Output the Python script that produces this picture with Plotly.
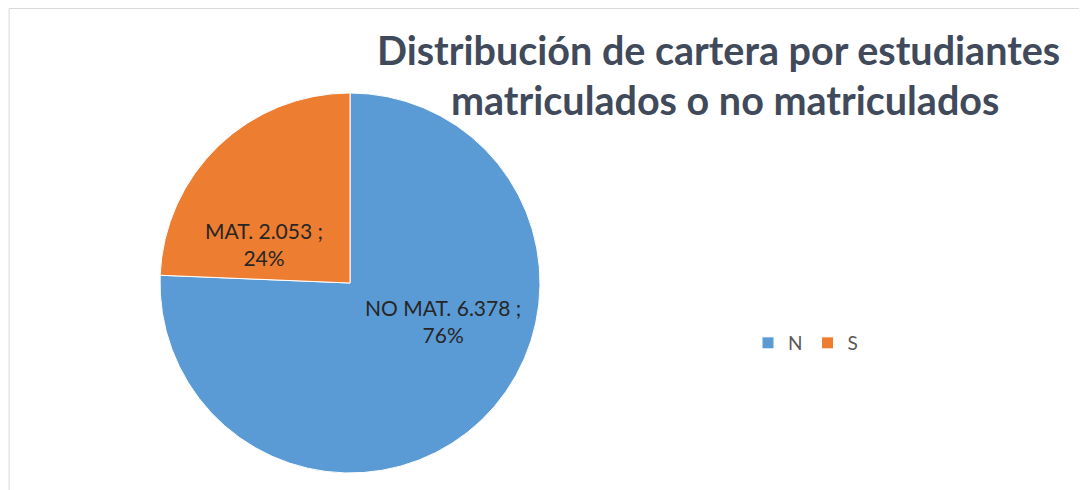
import plotly.graph_objects as go

labels = ["N", "S"]
values = [6378, 2053]
names = ["NO MAT.", "MAT."]
colors = ["#5B9BD5", "#ED7D31"]
title_lines = ["Distribución de cartera por estudiantes", "matriculados o no matriculados"]

OFF = 8  # page body margin
W, H = 1087 - OFF, 490 - OFF

def px(x):
    return (x - OFF) / W

def py(y):
    return 1 - (y - OFF) / H

cx, cy, r = 350, 283, 190

total = sum(values)
def fmt(v):
    return f"{v:,}".replace(",", ".")

fig = go.Figure(go.Pie(
    labels=labels, values=values, sort=False, direction="clockwise", rotation=0,
    marker=dict(colors=colors, line=dict(color="white", width=1)),
    textinfo="none", hoverinfo="label+value+percent",
    domain=dict(x=[px(cx - r), px(cx + r)], y=[py(cy + r), py(cy - r)]),
))

label_pos = [(443, 321), (264, 244)]
for (x, y), n, v in zip(label_pos, names, values):
    pct = round(100 * v / total)
    fig.add_annotation(x=px(x), y=py(y), xref="paper", yref="paper",
                       text=f"{n} {fmt(v)} ;<br>{pct}%", showarrow=False,
                       font=dict(family="Lato", size=21, color="#262626"),
                       xanchor="center", yanchor="middle", align="center")

for t, x, y in zip(title_lines, [718, 725], [49, 99]):
    fig.add_annotation(x=px(x), y=py(y), xref="paper", yref="paper",
                       text=f"<b>{t}</b>", showarrow=False,
                       font=dict(family="Lato", size=39.5, color="#404A5A"),
                       xanchor="center", yanchor="middle")

fig.add_shape(type="line", xref="paper", yref="paper", x0=0.001, x1=0.001, y0=0, y1=0.999,
              line=dict(color="#D9D9D9", width=1))
fig.add_shape(type="line", xref="paper", yref="paper", x0=0.001, x1=1, y0=0.999, y1=0.999,
              line=dict(color="#D9D9D9", width=1))

fig.update_layout(
    width=W, height=H, margin=dict(l=0, r=0, t=0, b=0),
    paper_bgcolor="white", plot_bgcolor="white",
    showlegend=True,
    legend=dict(orientation="h", x=px(748), y=py(343), xanchor="left", yanchor="middle",
                font=dict(family="Lato", size=19, color="#595959"), itemwidth=30,
                tracegroupgap=0),
)

fig.write_html("out.html")
